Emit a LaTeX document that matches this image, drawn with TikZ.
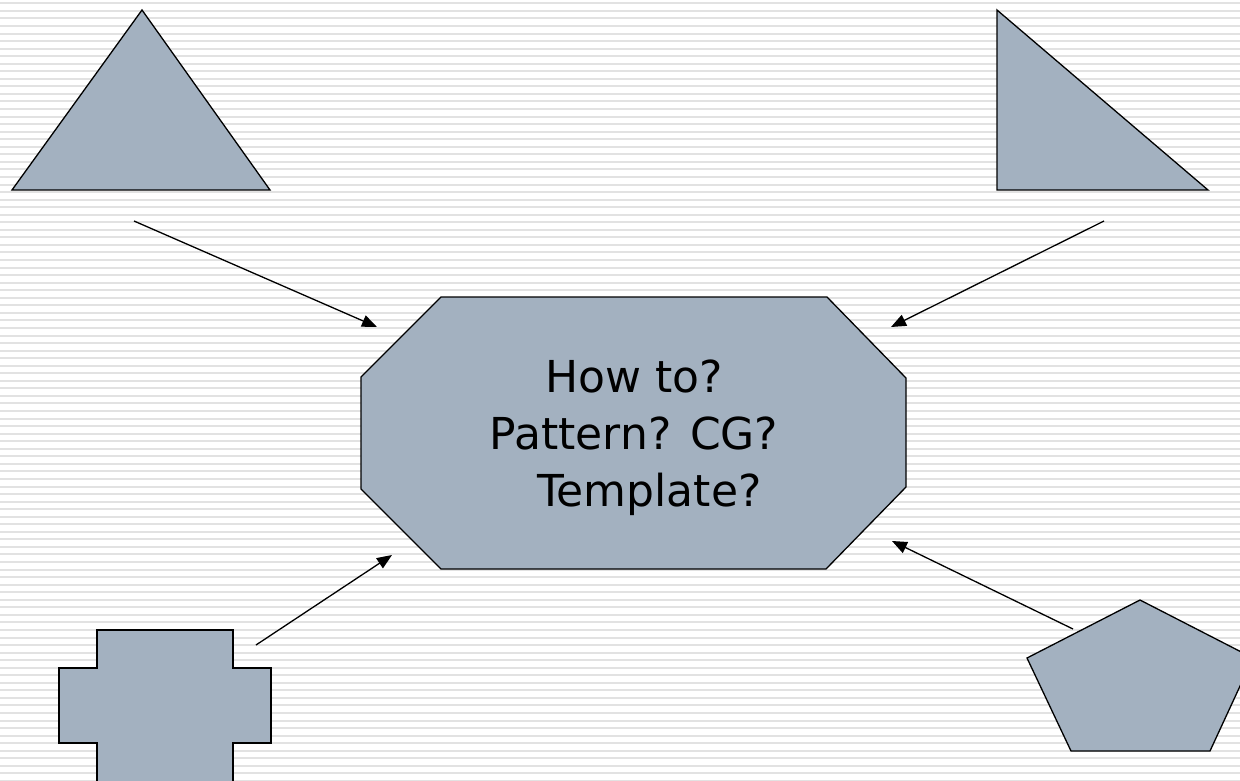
\documentclass[tikz,border=0pt]{standalone}
\usepackage{fontspec}
\setmainfont{DejaVu Sans}
\usetikzlibrary{arrows.meta}
\definecolor{shapefill}{RGB}{163,177,192}
\definecolor{stripe}{RGB}{226,226,226}
\begin{document}
\begin{tikzpicture}[x=1pt,y=-1pt,
  figure/.style={fill=shapefill,draw=black,line width=1.3pt,line join=miter},
  pointer/.style={line width=1.3pt,-{Triangle[length=15pt,width=12pt]}},
  label/.style={font=\fontsize{44}{57}\selectfont,align=center,inner sep=0pt},
]
\useasboundingbox (0,0) rectangle (1240,780);
\begin{scope}
\clip (0,0) rectangle (1240,780);
% striped backdrop
\fill[white] (0,0) rectangle (1240,780);
\foreach \i in {0,...,103}
  \draw[stripe,line width=2pt] (0,3.3+7.55*\i) -- (1240,3.3+7.55*\i);

% surrounding shapes
\draw[figure] (142,10) -- (270,190) -- (12,190) -- cycle;
\draw[figure] (997,10) -- (1208,190) -- (997,190) -- cycle;
\draw[figure] (97,630) -- (233,630) -- (233,668) -- (271,668) -- (271,743)
  -- (233,743) -- (233,800) -- (97,800) -- (97,743) -- (59,743) -- (59,668)
  -- (97,668) -- cycle;
\draw[figure] (1140,600) -- (1253,658) -- (1210,751) -- (1071,751)
  -- (1027,658) -- cycle;

% central octagon
\draw[figure] (441,297) -- (827,297) -- (906,378) -- (906,487) -- (826,569)
  -- (441,569) -- (361,489) -- (361,377) -- cycle;
\node[label] (q) at (634,438) {How to?\\Pattern? CG?\\\hspace*{0.7em}Template?};
\end{scope}

% connector ends
\coordinate (tlS) at (134,221);  \coordinate (tlE) at (377,327);
\coordinate (trS) at (1104,221); \coordinate (trE) at (891,327);
\coordinate (blS) at (256,645);  \coordinate (blE) at (392,555);
\coordinate (brS) at (1073,629); \coordinate (brE) at (892,541);

\draw[pointer] (tlS) -- (tlE);
\draw[pointer] (trS) -- (trE);
\draw[pointer] (blS) -- (blE);
\draw[pointer] (brS) -- (brE);
\end{tikzpicture}
\end{document}
